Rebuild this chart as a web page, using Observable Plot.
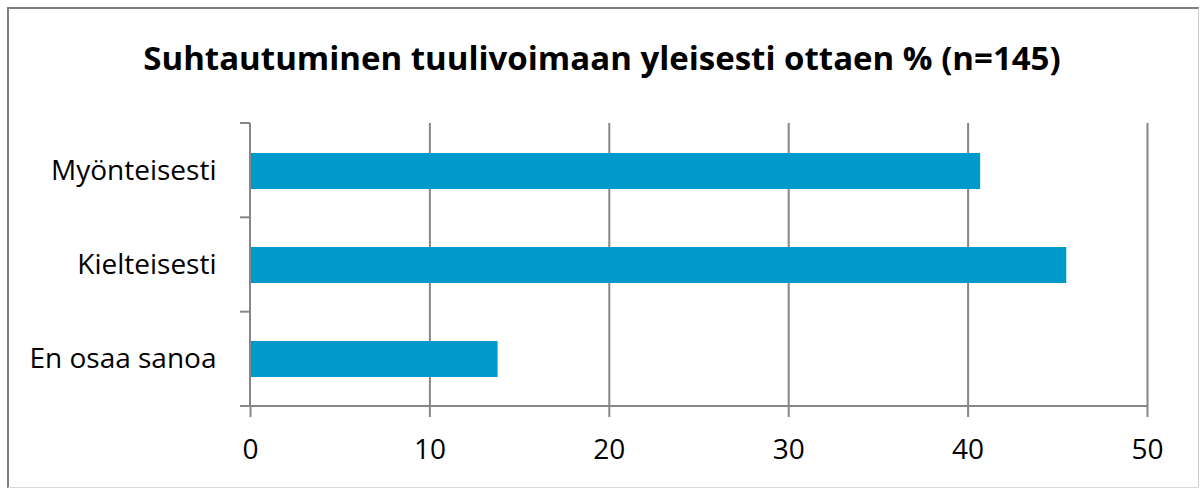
<!DOCTYPE html>
<html><head><meta charset="utf-8">
<script src="https://cdn.jsdelivr.net/npm/d3@7"></script>
<script src="https://cdn.jsdelivr.net/npm/@observablehq/plot@0.6"></script>
<style>
body{margin:0;background:#fff;}
#wrap{position:relative;width:1200px;height:489px;overflow:hidden;font-family:"Open Sans",sans-serif;background:#fff;}
#frame{position:absolute;left:7px;top:7px;width:1192px;height:481px;border-left:2px solid #7f7f7f;border-top:2px solid #7f7f7f;border-right:1px solid #cfcfcf;border-bottom:1px solid #dadada;box-sizing:border-box;}
#title{position:absolute;left:0;top:41px;width:1204px;text-align:center;font-weight:bold;font-size:33px;line-height:33px;color:#000;white-space:nowrap;}
#chart{position:absolute;left:0;top:115px;}
</style>
</head><body>
<div id="wrap">
  <div id="frame"></div>
  <div id="title">Suhtautuminen tuulivoimaan yleisesti ottaen % (n=145)</div>
  <div id="chart"></div>
</div>
<script>
const categories = ["Myönteisesti", "Kielteisesti", "En osaa sanoa"];
const values = [40.7, 45.5, 13.8];
const xTicks = [0, 10, 20, 30, 40, 50];

const data = categories.map((c, i) => ({category: c, value: values[i]}));
const axisColor = "#868686";

function axesFrame(index, scales, vals, dims) {
  const g = d3.create("svg:g").attr("stroke", axisColor).attr("stroke-width", 2).attr("fill", "none");
  const x0 = scales.x(xTicks[0]), x1 = scales.x(xTicks[xTicks.length - 1]);
  const top = dims.marginTop, bottom = dims.height - dims.marginBottom;
  const n = categories.length, step = (bottom - top) / n;
  g.append("line").attr("x1", x0).attr("x2", x0).attr("y1", top).attr("y2", bottom);
  g.append("line").attr("x1", x0 - 10).attr("x2", x1).attr("y1", bottom).attr("y2", bottom);
  for (let i = 0; i < n; i++) {
    const y = top + i * step;
    g.append("line").attr("x1", x0 - 10).attr("x2", x0).attr("y1", y).attr("y2", y);
  }
  return g.node();
}

const chart = Plot.plot({
  width: 1200,
  height: 374,
  marginTop: 8,
  marginLeft: 250,
  marginRight: 53,
  marginBottom: 83,
  x: {domain: [0, 50], ticks: xTicks},
  y: {domain: categories, paddingInner: 0.618, paddingOuter: 0.309},
  style: {fontFamily: "'Open Sans', sans-serif", fontSize: "28px", color: "#000", background: "transparent", overflow: "visible"},
  marks: [
    Plot.gridX(xTicks.slice(1), {stroke: axisColor, strokeOpacity: 1, strokeWidth: 2}),
    Plot.barX(data, {x: "value", y: "category", fill: "#0099cc"}),
    Plot.axisX(xTicks, {tickSize: 11, tickPadding: 22, stroke: axisColor, strokeWidth: 2, strokeOpacity: 1, label: null, fill: "#000", fontSize: 28}),
    Plot.axisY({tickSize: 0, tickPadding: 34, label: null, fill: "#000", fontSize: 28}),
    axesFrame
  ]
});
document.getElementById("chart").appendChild(chart);
</script>
</body></html>
